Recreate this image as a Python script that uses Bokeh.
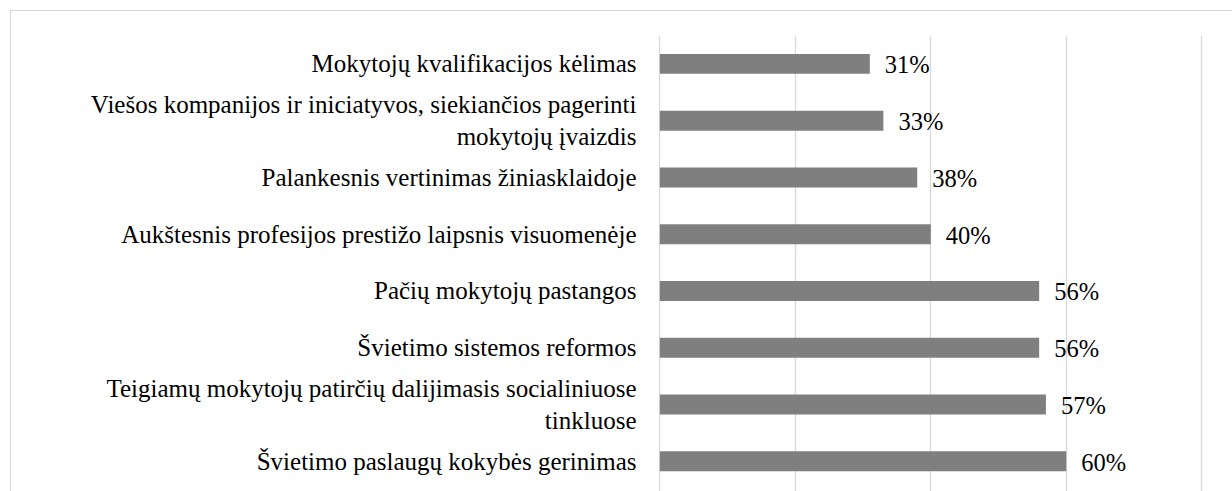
from bokeh.plotting import figure
from bokeh.models import ColumnDataSource, LabelSet, FixedTicker, Range1d, InlineStyleSheet
from bokeh.embed import file_html
from bokeh.resources import INLINE

categories = [
    "Mokytojų kvalifikacijos kėlimas",
    "Viešos kompanijos ir iniciatyvos, siekiančios pagerinti\nmokytojų įvaizdis",
    "Palankesnis vertinimas žiniasklaidoje",
    "Aukštesnis profesijos prestižo laipsnis visuomenėje",
    "Pačių mokytojų pastangos",
    "Švietimo sistemos reformos",
    "Teigiamų mokytojų patirčių dalijimasis socialiniuose\ntinkluose",
    "Švietimo paslaugų kokybės gerinimas",
]
values = [31, 33, 38, 40, 56, 56, 57, 60]
grid_ticks = [0, 20, 40, 60, 80]

FONT = "Times New Roman, Liberation Serif, serif"
ypos = list(range(len(categories)))
src = ColumnDataSource(dict(y=ypos, v=values, lbl=[f"{v}%" for v in values]))

p = figure(width=1221, height=480, output_backend="svg", toolbar_location=None,
           x_range=Range1d(-0.2, 81), y_range=Range1d(start=7.534, end=-0.5),
           min_border_left=647, min_border_right=24, min_border_top=24, min_border_bottom=0)
p.stylesheets = [InlineStyleSheet(css=":host { margin-left: 11px; margin-top: 11px; outline: 1px solid #d9d9d9; }")]
p.outline_line_color = None
p.background_fill_color = "white"
p.border_fill_color = "white"

p.hbar(y="y", right="v", left=0, height=0.352, source=src,
       fill_color="#7f7f7f", line_color=None)

labels = LabelSet(x="v", y="y", text="lbl", source=src, x_offset=15, y_offset=-1,
                  text_baseline="middle", text_font=FONT, text_font_size="24.5px",
                  text_color="black")
p.add_layout(labels)

p.xaxis.visible = False
p.xgrid.ticker = FixedTicker(ticks=grid_ticks)
p.xgrid.grid_line_color = "#d9d9d9"
p.xgrid.grid_line_width = 1.3
p.ygrid.visible = False

p.yaxis.ticker = FixedTicker(ticks=ypos)
p.yaxis.major_label_overrides = {i: c for i, c in zip(ypos, categories)}
p.yaxis.axis_line_color = None
p.yaxis.major_tick_line_color = None
p.yaxis.minor_tick_line_color = None
p.yaxis.major_label_standoff = 16
p.yaxis.major_label_text_font = FONT
p.yaxis.major_label_text_font_size = "25px"
p.yaxis.major_label_text_color = "black"

open("out.html", "w").write(file_html(p, INLINE))
